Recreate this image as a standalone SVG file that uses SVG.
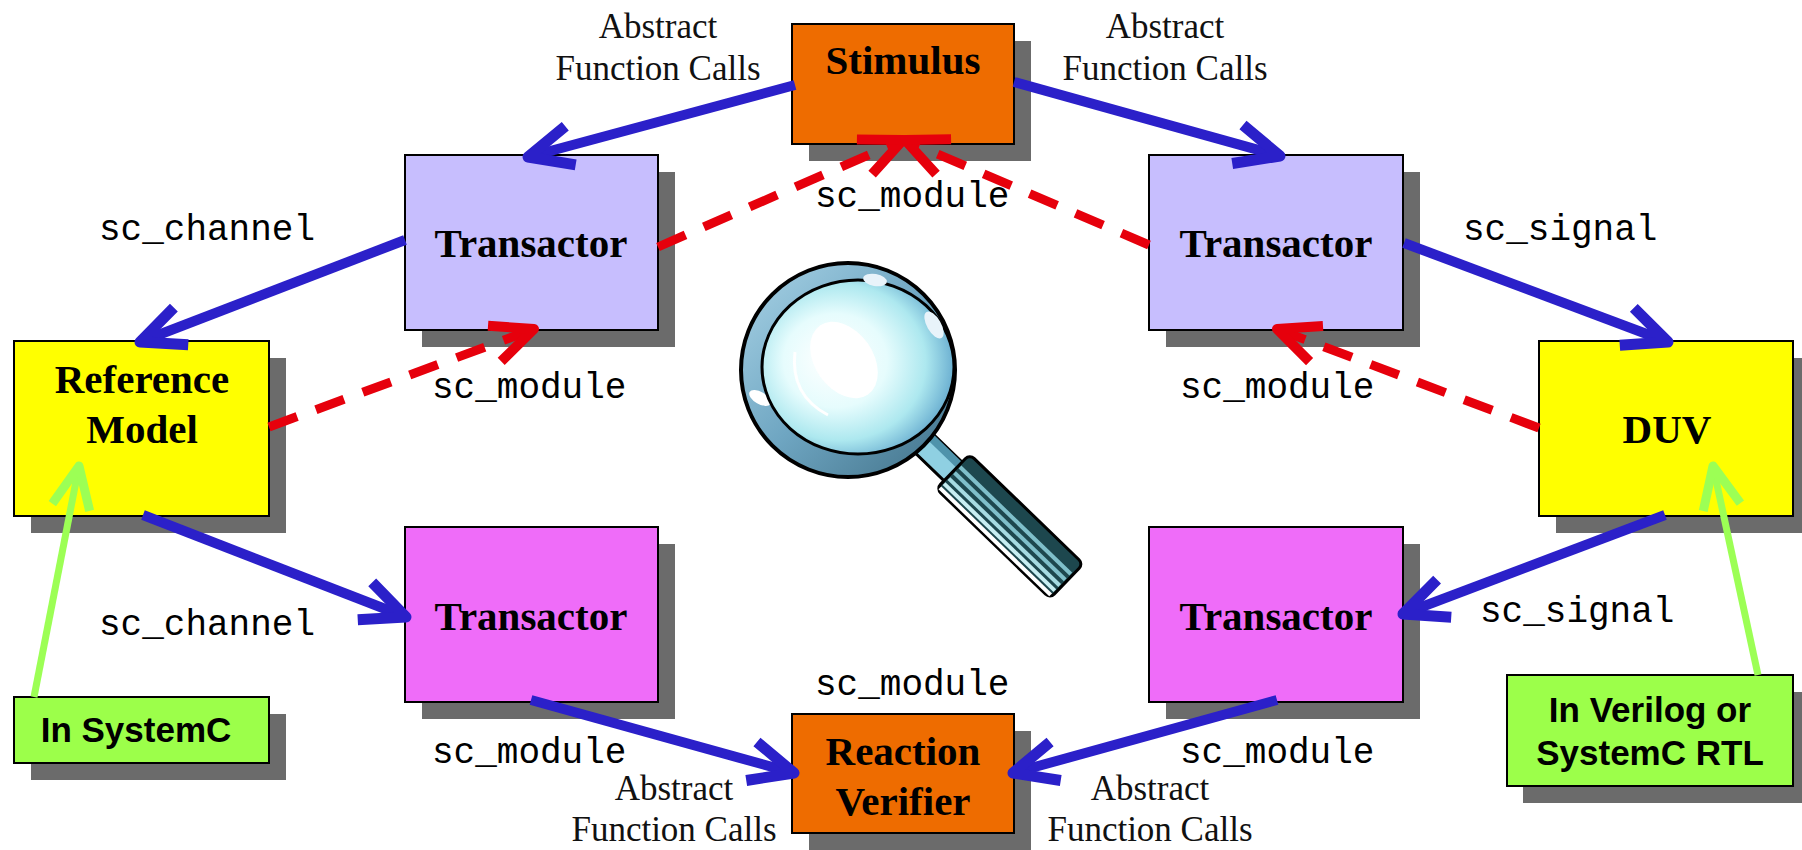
<svg xmlns="http://www.w3.org/2000/svg" width="1802" height="850" viewBox="0 0 1802 850">
  <style>
    .shadow { fill: #6b6b6b; }
    .box { stroke: #000; stroke-width: 2; }
    .orange { fill: #ee6c00; }
    .lavender { fill: #c7befe; }
    .magenta { fill: #ef6cf9; }
    .yellow { fill: #ffff00; }
    .lime { fill: #9cff4a; }
    .title { font-family: "Liberation Serif", "Times New Roman", serif; font-weight: bold; font-size: 41px; fill: #000; text-anchor: middle; }
    .note { font-family: "Liberation Sans", Arial, sans-serif; font-weight: bold; font-size: 35px; fill: #000; text-anchor: middle; }
    .call { font-family: "Liberation Serif", "Times New Roman", serif; font-size: 35px; fill: #111; text-anchor: middle; }
    .code { font-family: "Liberation Mono", "Courier New", monospace; font-size: 36px; fill: #000; }
    .blue { stroke: #2b20c9; stroke-width: 10; fill: none; marker-end: url(#headBlue); }
    .red { stroke: #e6000c; stroke-width: 9; fill: none; stroke-dasharray: 30 20; marker-end: url(#headRed); }
    .green { stroke: #9cff55; stroke-width: 7; fill: none; marker-end: url(#headGreen); }
  </style>
  <defs>
    <marker id="headBlue" markerUnits="userSpaceOnUse" markerWidth="80" markerHeight="80" viewBox="-60 -40 80 80" refX="0" refY="0" orient="auto" overflow="visible">
      <path d="M-44,-20 L0,0 L-44,20" fill="none" stroke="#2b20c9" stroke-width="11" stroke-linejoin="round"/>
    </marker>
    <marker id="headRed" markerUnits="userSpaceOnUse" markerWidth="80" markerHeight="80" viewBox="-60 -40 80 80" refX="0" refY="0" orient="auto" overflow="visible">
      <path d="M-42,-19 L0,0 L-42,19" fill="none" stroke="#e6000c" stroke-width="10" stroke-linejoin="round"/>
    </marker>
    <marker id="headGreen" markerUnits="userSpaceOnUse" markerWidth="80" markerHeight="80" viewBox="-60 -40 80 80" refX="0" refY="0" orient="auto" overflow="visible">
      <path d="M-42,-19 L0,0 L-42,19" fill="none" stroke="#9cff55" stroke-width="9" stroke-linejoin="round"/>
    </marker>
    <linearGradient id="rimGrad" x1="0" y1="0" x2="1" y2="1">
      <stop offset="0" stop-color="#a9d3e6"/>
      <stop offset="0.5" stop-color="#6fa6c2"/>
      <stop offset="1" stop-color="#3f6f86"/>
    </linearGradient>
    <radialGradient id="faceGrad" cx="0.42" cy="0.48" r="0.6" fx="0.35" fy="0.45">
      <stop offset="0" stop-color="#ffffff"/>
      <stop offset="0.45" stop-color="#e6fcfd"/>
      <stop offset="0.75" stop-color="#ade8ef"/>
      <stop offset="1" stop-color="#63a8cd"/>
    </radialGradient>
  </defs>

  <rect width="1802" height="850" fill="#ffffff"/>

  <!-- nodes -->
  <g id="stimulus">
    <rect class="shadow" x="809" y="41" width="222" height="120"/>
    <rect class="box orange" x="792" y="24" width="222" height="120"/>
    <text class="title" x="903" y="74">Stimulus</text>
  </g>
  <g id="transactor-ul">
    <rect class="shadow" x="422" y="172" width="253" height="175"/>
    <rect class="box lavender" x="405" y="155" width="253" height="175"/>
    <text class="title" x="531" y="257">Transactor</text>
  </g>
  <g id="transactor-ur">
    <rect class="shadow" x="1166" y="172" width="254" height="175"/>
    <rect class="box lavender" x="1149" y="155" width="254" height="175"/>
    <text class="title" x="1276" y="257">Transactor</text>
  </g>
  <g id="reference-model">
    <rect class="shadow" x="31" y="358" width="255" height="175"/>
    <rect class="box yellow" x="14" y="341" width="255" height="175"/>
    <text class="title" x="142" y="393">Reference</text>
    <text class="title" x="142" y="443">Model</text>
  </g>
  <g id="duv">
    <rect class="shadow" x="1556" y="358" width="254" height="175"/>
    <rect class="box yellow" x="1539" y="341" width="254" height="175"/>
    <text class="title" x="1667" y="443">DUV</text>
  </g>
  <g id="transactor-ll">
    <rect class="shadow" x="422" y="544" width="253" height="175"/>
    <rect class="box magenta" x="405" y="527" width="253" height="175"/>
    <text class="title" x="531" y="630">Transactor</text>
  </g>
  <g id="transactor-lr">
    <rect class="shadow" x="1166" y="544" width="254" height="175"/>
    <rect class="box magenta" x="1149" y="527" width="254" height="175"/>
    <text class="title" x="1276" y="630">Transactor</text>
  </g>
  <g id="reaction-verifier">
    <rect class="shadow" x="809" y="731" width="222" height="119"/>
    <rect class="box orange" x="792" y="714" width="222" height="119"/>
    <text class="title" x="903" y="765">Reaction</text>
    <text class="title" x="903" y="815">Verifier</text>
  </g>
  <g id="in-systemc">
    <rect class="shadow" x="31" y="714" width="255" height="66"/>
    <rect class="box lime" x="14" y="697" width="255" height="66"/>
    <text class="note" x="136" y="742">In SystemC</text>
  </g>
  <g id="in-verilog">
    <rect class="shadow" x="1523" y="692" width="286" height="111"/>
    <rect class="box lime" x="1507" y="675" width="286" height="111"/>
    <text class="note" x="1650" y="722">In Verilog or</text>
    <text class="note" x="1650" y="765">SystemC RTL</text>
  </g>

  <!-- magnifying glass -->
  <g id="magnifier">
    <g transform="translate(848,370) rotate(44)">
      <rect x="92" y="-13" width="60" height="26" fill="#8fd0e2" stroke="#000" stroke-width="3"/>
      <rect x="92" y="-13" width="60" height="8" fill="#4f93ab"/>
      <rect x="146" y="-24" width="158" height="48" rx="6" fill="#1d474e" stroke="#000" stroke-width="3"/>
      <rect x="148" y="-10" width="154" height="4" fill="#7fbfca"/>
      <rect x="148" y="-2" width="154" height="4" fill="#7fbfca"/>
      <rect x="148" y="6" width="154" height="4" fill="#a6dbe2"/>
      <rect x="148" y="13" width="154" height="4" fill="#c8eef2"/>
      <rect x="148" y="19" width="154" height="4" fill="#ffffff"/>
    </g>
    <circle cx="848" cy="370" r="107" fill="url(#rimGrad)" stroke="#000" stroke-width="4"/>
    <ellipse cx="760" cy="398" rx="6" ry="12" fill="#ffffff" transform="rotate(-60 760 398)"/>
    <ellipse cx="858" cy="367" rx="96" ry="87" fill="url(#faceGrad)" stroke="#000" stroke-width="3"/>
    <ellipse cx="844" cy="360" rx="29" ry="42" fill="#ffffff" transform="rotate(-35 844 360)"/>
    <path d="M795,352 Q790,395 828,415" fill="none" stroke="#ffffff" stroke-width="3"/>
    <ellipse cx="875" cy="280" rx="12" ry="6" fill="#e8f3fa" transform="rotate(10 875 280)"/>
    <ellipse cx="934" cy="325" rx="7" ry="15" fill="#e8f3fa" transform="rotate(-30 934 325)"/>
  </g>

  <!-- connectors -->
  <g id="connectors">
    <path class="blue" d="M795,85 L528,157"/>
    <path class="blue" d="M1014,82 L1280,156"/>
    <path class="blue" d="M405,240 L140,342"/>
    <path class="blue" d="M1404,243 L1668,342"/>
    <path class="blue" d="M143,515 L406,617"/>
    <path class="blue" d="M1665,515 L1403,614"/>
    <path class="blue" d="M531,700 L794,773"/>
    <path class="blue" d="M1277,700 L1013,773"/>
    <path class="red" d="M658,247 L903,140"/>
    <path class="red" d="M1149,245 L905,140"/>
    <path class="red" d="M269,427 L534,329"/>
    <path class="red" d="M1539,428 L1277,329"/>
    <path class="green" d="M34,697 L79,466"/>
    <path class="green" d="M1758,675 L1713,466"/>
  </g>

  <!-- connector labels -->
  <g id="labels">
    <text class="call" x="658" y="38">Abstract</text>
    <text class="call" x="658" y="80">Function Calls</text>
    <text class="call" x="1165" y="38">Abstract</text>
    <text class="call" x="1165" y="80">Function Calls</text>
    <text class="call" x="674" y="800">Abstract</text>
    <text class="call" x="674" y="841">Function Calls</text>
    <text class="call" x="1150" y="800">Abstract</text>
    <text class="call" x="1150" y="841">Function Calls</text>
    <text class="code" x="99" y="240">sc_channel</text>
    <text class="code" x="99" y="635">sc_channel</text>
    <text class="code" x="815" y="207">sc_module</text>
    <text class="code" x="432" y="398">sc_module</text>
    <text class="code" x="1180" y="398">sc_module</text>
    <text class="code" x="1463" y="240">sc_signal</text>
    <text class="code" x="1480" y="622">sc_signal</text>
    <text class="code" x="815" y="695">sc_module</text>
    <text class="code" x="432" y="763">sc_module</text>
    <text class="code" x="1180" y="763">sc_module</text>
  </g>
</svg>
